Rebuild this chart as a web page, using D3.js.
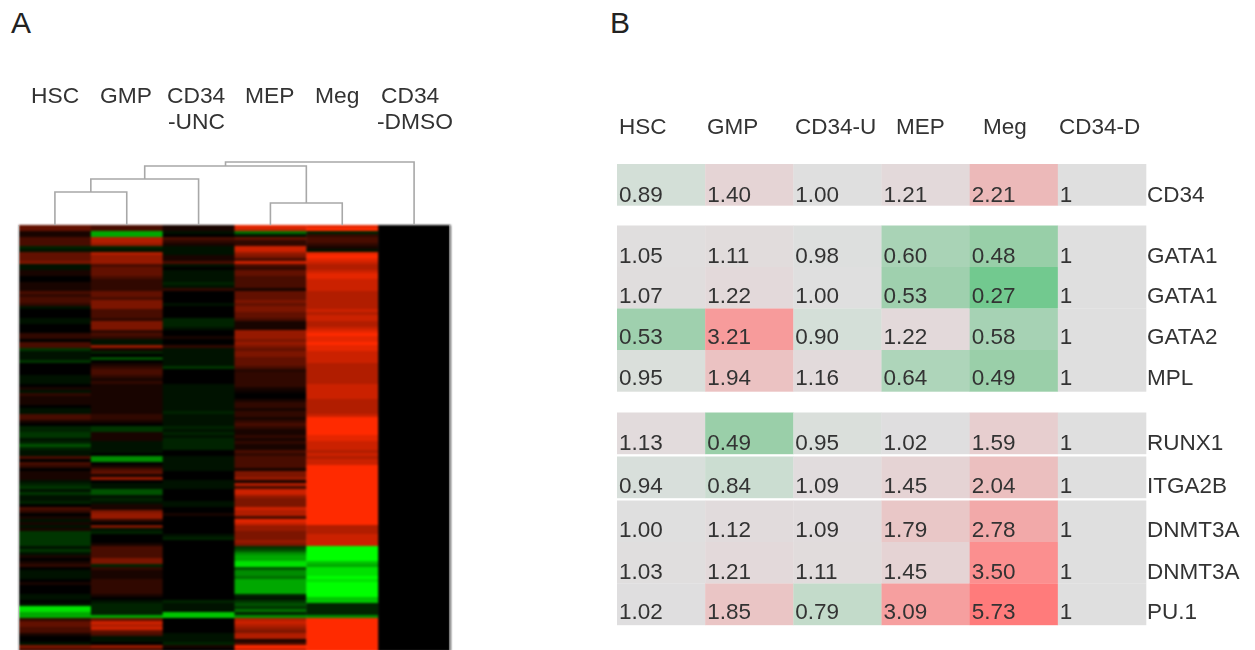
<!DOCTYPE html>
<html>
<head>
<meta charset="utf-8">
<script src="https://cdn.jsdelivr.net/npm/d3@7"></script>
<style>
html,body{margin:0;padding:0;background:#fff;overflow:hidden}
svg{display:block}
text{font-family:"Liberation Sans",Arial,sans-serif;fill:#333}
</style>
</head>
<body>
<svg id="chart" width="1255" height="650"></svg>
<script>
// Panel A: expression heat map, values run from -10 (green) to +10 (red)
const heatColumns = ["HSC","GMP","CD34-UNC","MEP","Meg","CD34-DMSO"];
const heatHSC = [4,4,1,1,3,3,3,-2,-1,4,4,4,5,-1,-1,1,1,0,0,1,1,1,3,2,3,3,2,-1,0,0,0,-1,-1,0,0,0,
  2,2,0,3,3,-3,-1,-1,-1,-3,0,0,0,0,-1,-1,-1,0,1,-1,2,1,1,1,0,-1,-1,3,3,1,0,-2,-2,-3,-3,
  -1,-2,-4,-2,-1,-1,3,0,3,2,0,1,1,1,-1,-2,-3,-1,-3,-1,-1,-2,0,3,2,0,1,-1,1,-1,1,-3,-3,-3,-3,-3,
  -1,-3,-1,1,0,1,2,0,-1,-1,-1,0,1,0,0,0,-1,-1,0,-1,-9,-9,-7,-7,2,4,4,3,3,1,0,0,-1,5,3];
const heatGMP = [3,3,-7,-7,7,7,6,-2,-1,7,6,6,6,3,4,4,4,3,2,2,2,2,4,4,3,5,5,5,3,3,3,2,5,5,5,2,
  3,2,-1,-1,6,1,-2,0,-4,0,1,2,3,3,2,1,2,1,1,1,1,1,1,1,1,1,1,2,2,1,0,-3,-3,1,1,
  1,-1,-1,-1,-1,0,-6,-6,0,1,3,4,1,6,0,-1,-1,-4,-4,-1,-2,-1,1,1,5,6,6,2,0,5,-1,-2,0,0,0,1,
  3,3,3,3,5,5,-2,2,1,1,1,2,2,2,2,2,1,0,-1,-2,-2,-2,-2,-7,4,8,7,8,4,3,-1,-1,0,6,3];
const heatUNC = [1,1,-1,0,3,2,1,-1,-1,-1,1,1,3,-1,0,-1,-1,-1,-1,-2,-1,2,0,0,0,0,-1,0,0,0,0,-2,-2,-2,-1,0,
  0,1,0,0,2,-1,-1,-1,-1,-1,-1,-3,0,0,0,0,0,-1,-1,-1,-1,-1,-1,-1,-1,-1,-2,-1,-1,-1,-1,-2,-1,-2,-1,
  -2,-2,-2,-2,0,0,-1,-1,-1,-1,-1,0,0,0,-1,-1,-1,0,0,0,0,-1,-1,0,0,1,0,0,0,0,0,0,-1,-2,0,0,
  0,0,0,0,0,0,0,0,0,0,0,0,0,0,0,0,0,0,-2,-1,-1,-1,-8,-8,0,0,0,0,0,-1,-1,-1,-2,1,0];
const heatMEP = [9,8,-5,-1,4,2,2,8,8,6,5,3,8,3,2,4,4,3,3,3,3,1,4,4,4,5,4,5,5,4,4,3,1,1,1,6,
  6,6,5,6,5,4,5,5,4,4,4,3,1.5,2,2,2,2,2,1,0.5,0,0,1,2,2,1,2,2,1,2,3,2,1,1,2,
  1,2,1,1,3,2,3,3,3,3,1,5,5,6,1,7,3,8,8,6,5,5,5,8,7,7,3,9,8,6,6,5,5,5,6,5,
  -3,-4,-6,-7,-7,-9,-9,-4,-6,-6,-5,-7,-7,-7,-7,-7,-2,-1,-3,-4,-3,-5,-2,-6,7,8,7,6,5,7,7,1,3,10,8];
const heatMeg = [9,10,-2,2,3,3,2,1,-1,9,10,9,8,7,7,8,9,9,8,8,8,8,7,7,7,7,7,7,8,7,8,8,7,7,8,9,
  10,9,9,10,9,9,8,8,8,8,7,7,7,7,7,7,7,8,8,8,8,8,7,7,7,7,7,8,10,10,10,10,10,10,9,
  9,8,8,8,7,8,7,8,8,10,10,10,10,10,10,10,10,10,10,10,10,10,10,10,10,10,10,10,10,7,7,7,8,8,8,8,
  -10,-10,-10,-10,-10,-8,-7,-9,-9,-9,-10,-9,-10,-10,-10,-10,-10,-8,-8,-2,-2,-2,-2,-6,10,10,10,10,10,10,10,10,10,10,10];
const heatDMSO = heatHSC.map(() => 0); // the reference sample: every row is 0

const dendroTree = [[[[0,1,33],2,46],[3,4,22],59],5,63];

const panelALabels = [["HSC"],["GMP"],["CD34","-UNC"],["MEP"],["Meg"],["CD34","-DMSO"]];

// Panel B: fold-change table
const tableColumns = ["HSC","GMP","CD34-U","MEP","Meg","CD34-D"];
const tableGenes = ["CD34","GATA1","GATA1","GATA2","MPL","RUNX1","ITGA2B","DNMT3A","DNMT3A","PU.1"];
const tableGroups = [0,1,1,1,1,2,3,4,4,4];
const colHSC = ["0.89","1.05","1.07","0.53","0.95","1.13","0.94","1.00","1.03","1.02"];
const colGMP = ["1.40","1.11","1.22","3.21","1.94","0.49","0.84","1.12","1.21","1.85"];
const colCD34U = ["1.00","0.98","1.00","0.90","1.16","0.95","1.09","1.09","1.11","0.79"];
const colMEP = ["1.21","0.60","0.53","1.22","0.64","1.02","1.45","1.79","1.45","3.09"];
const colMeg = ["2.21","0.48","0.27","0.58","0.49","1.59","2.04","2.78","3.50","5.73"];
const colCD34D = ["1","1","1","1","1","1","1","1","1","1"];

const svg = d3.select("#chart");
const defs = svg.append("defs");
defs.append("filter").attr("id","heatBlur").attr("x","-2%").attr("y","-2%").attr("width","104%").attr("height","104%")
  .attr("color-interpolation-filters","sRGB")
  .append("feGaussianBlur").attr("stdDeviation","0.8 1.1");
defs.append("filter").attr("id","soft").attr("x","-5%").attr("y","-20%").attr("width","110%").attr("height","140%")
  .attr("color-interpolation-filters","sRGB")
  .append("feGaussianBlur").attr("stdDeviation","0.45");

// Panel letters
svg.append("text").attr("x",11).attr("y",33).attr("font-size",30).style("fill","#222").text("A");
svg.append("text").attr("x",610).attr("y",33).attr("font-size",30).style("fill","#222").text("B");

// ---- heat map
const heatSeries = [heatHSC,heatGMP,heatUNC,heatMEP,heatMeg,heatDMSO];
const xHeat = d3.scaleBand().domain(d3.range(heatColumns.length)).range([19,450]);
const yHeat = d3.scaleBand().domain(d3.range(heatHSC.length)).range([225,225+3*heatHSC.length]);
const heatColor = d3.scaleLinear().domain([-10,-3,0,3,10]).range(["#00ff00","#003500","#000000","#480c00","#ff2a00"]);

const heatG = svg.append("g").attr("filter","url(#heatBlur)");
heatSeries.forEach((vals,c)=>{
  heatG.selectAll(null).data(vals).join("rect")
    .attr("x",xHeat(c)).attr("width",xHeat.bandwidth()+0.5)
    .attr("y",(d,i)=>yHeat(i)).attr("height",yHeat.bandwidth()+0.5)
    .attr("fill",d=>heatColor(d));
});
// frame edges
svg.append("line").attr("x1",18.5).attr("x2",18.5).attr("y1",225).attr("y2",650).attr("stroke","#c4c4c4");
svg.append("line").attr("x1",450).attr("x2",450).attr("y1",225).attr("y2",650).attr("stroke","#c4c4c4");

// ---- dendrogram
const yDen = d3.scaleLinear().domain([0,63]).range([225,162]);
const denG = svg.append("g").attr("filter","url(#soft)").attr("fill","none").attr("stroke","#a8a8a8").attr("stroke-width",1.6);
function drawNode(n){
  if(typeof n === "number") return {x:xHeat(n)+xHeat.bandwidth()/2,h:0};
  const a=drawNode(n[0]), b=drawNode(n[1]), h=n[2];
  const p=d3.path();
  p.moveTo(a.x,yDen(a.h)); p.lineTo(a.x,yDen(h)); p.lineTo(b.x,yDen(h)); p.lineTo(b.x,yDen(b.h));
  denG.append("path").attr("d",p.toString());
  return {x:(a.x+b.x)/2,h};
}
drawNode(dendroTree);

// ---- panel A labels
const labelX = [[31],[100],[167,168],[245],[315],[381,377]];
const labelY = d3.scaleLinear().domain([0,1]).range([103,129]);
const textG = svg.append("g").attr("filter","url(#soft)");
panelALabels.forEach((lines,c)=>lines.forEach((t,l)=>{
  textG.append("text").attr("x",labelX[c][l]).attr("y",labelY(l)).attr("font-size",22.8).text(t);
}));

// ---- table
const tableSeries = [colHSC,colGMP,colCD34U,colMEP,colMeg,colCD34D];
const xTab = d3.scaleBand().domain(d3.range(tableColumns.length)).range([617,1146]);
const gapUnits = [0,20,21,2.5,2.5];
const baseOffsets = [37.5,37,36,35.5,35,37,36.5,36,37,35];
const rowH = 41.5;
const rowTop = i => {
  let y = 164 + i*rowH;
  for(let g=1;g<=tableGroups[i];g++) y += gapUnits[g];
  return y;
};
const cellColor = d3.scaleLinear()
  .domain([0.27,0.49,0.60,0.79,0.89,1.0,1.2,1.45,1.85,2.21,2.78,3.21,3.5,5.73])
  .range(["#72c98f","#9acfa9","#a9d3b6","#c3dbca","#d3dfd7","#dfdfdf","#e3d9da","#e5d3d4","#eac5c5","#ecb9b9","#f2a9a9","#f79b9b","#fb8f8f","#ff7b7b"]);
const tabG = svg.append("g");
tableSeries.forEach((vals,c)=>{
  tabG.selectAll(null).data(vals).join("rect")
    .attr("x",xTab(c)).attr("width",xTab.bandwidth()+0.3)
    .attr("y",(d,i)=>rowTop(i)).attr("height",rowH+0.2)
    .attr("fill",d=>cellColor(+d));
});
const tabText = svg.append("g").attr("filter","url(#soft)");
tableSeries.forEach((vals,c)=>{
  tabText.selectAll(null).data(vals).join("text")
    .attr("x",xTab(c)+2).attr("y",(d,i)=>rowTop(i)+baseOffsets[i]).attr("font-size",22.5).text(d=>d);
});
tabText.selectAll(null).data(tableGenes).join("text")
  .attr("x",1147).attr("y",(d,i)=>rowTop(i)+baseOffsets[i]).attr("font-size",22.5).text(d=>d);
const headX = [619,707,795,896,983,1059];
tabText.selectAll(null).data(tableColumns).join("text")
  .attr("x",(d,i)=>headX[i]).attr("y",134).attr("font-size",22.5).text(d=>d);
</script>
</body>
</html>
